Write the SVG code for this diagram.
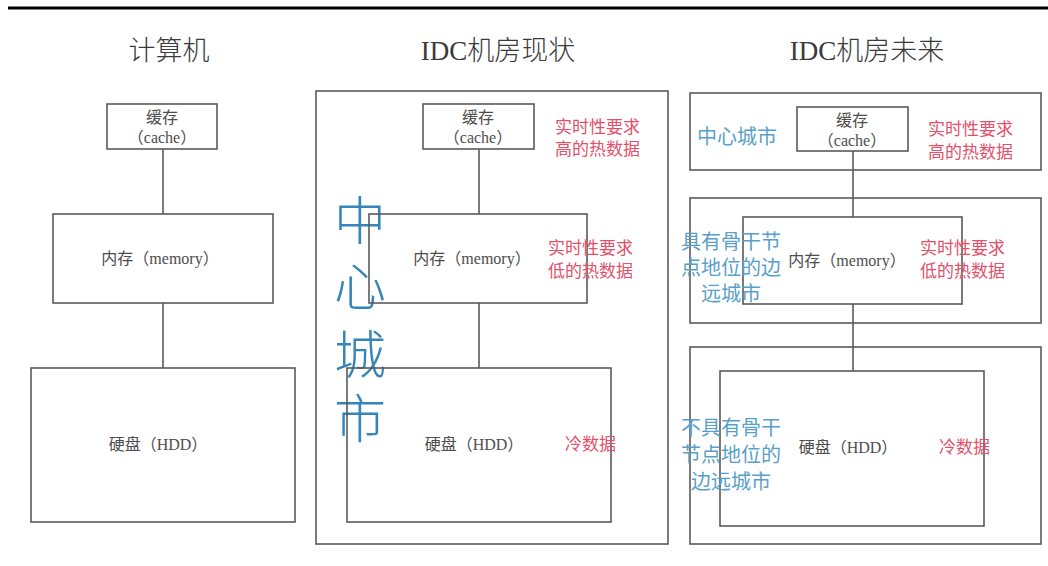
<svg xmlns="http://www.w3.org/2000/svg" width="1048" height="566" viewBox="0 0 1048 566">
<style>
.box{fill:none;stroke:#5a5a5a;stroke-width:1.6}
.con{stroke:#5a5a5a;stroke-width:1.6;fill:none}
.t{font-family:"Liberation Serif","Noto Sans CJK SC",serif;font-size:16px;fill:#4d4d4d;text-anchor:middle}
.title{font-family:"Liberation Serif","Noto Sans CJK SC",serif;font-size:27px;font-weight:300;fill:#3a3a3a;text-anchor:middle}
.red{font-family:"Liberation Serif","Noto Sans CJK SC",serif;font-size:17px;fill:#e2506a}
.blue{font-family:"Liberation Serif","Noto Sans CJK SC",serif;font-size:20px;fill:#5a9fca;text-anchor:middle}
.big{font-family:"Liberation Serif","Noto Sans CJK SC",serif;font-size:52px;font-weight:300;fill:#3585b8;text-anchor:middle}
</style>
<rect width="1048" height="566" fill="#ffffff"/>
<line x1="8" y1="8" x2="1048" y2="8" stroke="#000" stroke-width="3"/>

<g id="titles">
<text class="title" x="169" y="60">计算机</text>
<text class="title" x="498" y="60">IDC机房现状</text>
<text class="title" x="867" y="60">IDC机房未来</text>
</g>

<g id="containers">
<rect id="idc-now" class="box" x="316" y="91" width="352" height="453"/>
<rect id="future-center" class="box" x="690" y="93" width="351" height="77"/>
<rect id="future-backbone" class="box" x="690" y="198" width="351" height="125"/>
<rect id="future-edge" class="box" x="690" y="347" width="351" height="197"/>
</g>

<g id="connectors">
<line class="con" x1="163" y1="149" x2="163" y2="214"/>
<line class="con" x1="163" y1="303" x2="163" y2="368"/>
<line class="con" x1="479" y1="149" x2="479" y2="214"/>
<line class="con" x1="479" y1="303" x2="479" y2="368"/>
<line class="con" x1="853" y1="151" x2="853" y2="217"/>
<line class="con" x1="853" y1="304" x2="853" y2="371"/>
</g>

<g id="pc-cache"><rect class="box" x="107" y="104" width="110" height="45"/>
<text class="t" x="162" y="123">缓存</text><text class="t" x="162" y="143">（cache）</text></g>
<g id="pc-memory"><rect class="box" x="53" y="214" width="220" height="89"/>
<text class="t" x="160" y="264">内存（memory）</text></g>
<g id="pc-hdd"><rect class="box" x="31" y="368" width="264" height="154"/>
<text class="t" x="158" y="450">硬盘（HDD）</text></g>

<g id="now-label"><text class="big" x="360" y="240">中</text><text class="big" x="360" y="306">心</text><text class="big" x="360" y="374">城</text><text class="big" x="360" y="438">市</text></g>
<g id="now-cache"><rect class="box" x="423" y="104" width="111" height="45"/>
<text class="t" x="478" y="123">缓存</text><text class="t" x="478" y="143">（cache）</text>
<text class="red" x="555" y="133">实时性要求</text><text class="red" x="555" y="155">高的热数据</text></g>
<g id="now-memory"><rect class="box" x="369" y="214" width="218" height="89"/>
<text class="t" x="472" y="264">内存（memory）</text>
<text class="red" x="548" y="254">实时性要求</text><text class="red" x="548" y="277">低的热数据</text></g>
<g id="now-hdd"><rect class="box" x="347" y="368" width="264" height="154"/>
<text class="t" x="474" y="450">硬盘（HDD）</text>
<text class="red" x="565" y="450">冷数据</text></g>

<g id="future-cache"><rect class="box" x="797" y="107" width="111" height="44"/>
<text class="t" x="852" y="126">缓存</text><text class="t" x="852" y="146">（cache）</text>
<text class="blue" x="737" y="144">中心城市</text>
<text class="red" x="928" y="135">实时性要求</text><text class="red" x="928" y="158">高的热数据</text></g>
<g id="future-memory"><rect class="box" x="743" y="217" width="219" height="87"/>
<text class="t" x="847" y="266">内存（memory）</text>
<text class="blue" x="731" y="249">具有骨干节</text><text class="blue" x="731" y="275">点地位的边</text><text class="blue" x="731" y="301">远城市</text>
<text class="red" x="920" y="254">实时性要求</text><text class="red" x="920" y="277">低的热数据</text></g>
<g id="future-hdd"><rect class="box" x="720" y="371" width="264" height="155"/>
<text class="t" x="848" y="453">硬盘（HDD）</text>
<text class="blue" x="731" y="435">不具有骨干</text><text class="blue" x="731" y="462">节点地位的</text><text class="blue" x="731" y="489">边远城市</text>
<text class="red" x="939" y="453">冷数据</text></g>
</svg>
